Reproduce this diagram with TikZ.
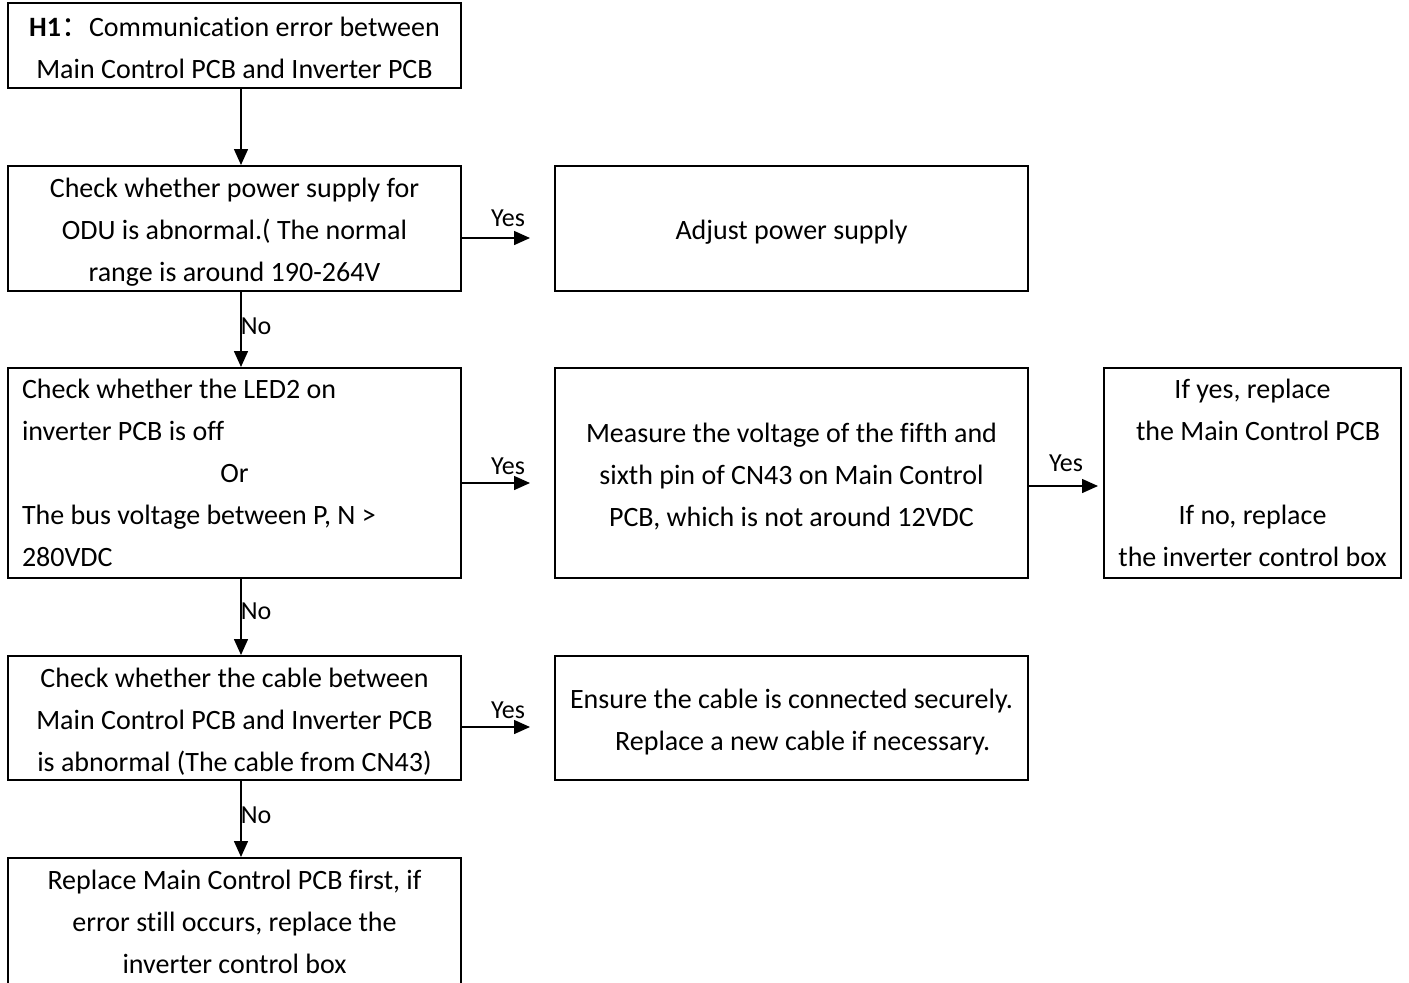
\documentclass[tikz,border=0pt]{standalone}
\usepackage{fontspec}
\setmainfont[Ligatures={NoCommon}]{Carlito}
\newfontfamily\cjkfont{Noto Sans CJK SC}
\usetikzlibrary{arrows.meta}
\newcommand\upfix{\rule{0pt}{27pt}}
\begin{document}
\begin{tikzpicture}[x=1pt,y=-1pt,
  box/.style={draw,line width=2pt,inner sep=0pt,align=center,
    font=\fontsize{28}{42}\selectfont},
  conn/.style={line width=1.5pt,-{Triangle[length=16pt,width=14pt]}},
  lbl/.style={font=\fontsize{26}{30}\selectfont,inner sep=0pt}]
\useasboundingbox (0,0) rectangle (1409,983);
\clip (0,0) rectangle (1409,983);
\node[box,minimum width=453,minimum height=85] (h1) at (234.5,45.5)
  {\rule{0pt}{25pt}\textbf{H1}{\cjkfont ：}Communication error between\\Main Control PCB and Inverter PCB};
\node[box,minimum width=453,minimum height=125] (b2) at (234.5,228.5)
  {\upfix Check whether power supply for\\ODU is abnormal.( The normal\\range is around 190-264V};
\node[box,minimum width=473,minimum height=125] (adj) at (791.5,228.5)
  {\upfix Adjust power supply};
\node[box,minimum width=453,minimum height=210,text width=425,align=flush left] (b3) at (234.5,473)
  {Check whether the LED2 on\\inverter PCB is off\\\makebox[\linewidth]{Or}\\The bus voltage between P, N >\\280VDC};
\node[box,minimum width=473,minimum height=210] (meas) at (791.5,473)
  {\upfix Measure the voltage of the fifth and\\sixth pin of CN43 on Main Control\\PCB, which is not around 12VDC};
\node[box,minimum width=297,minimum height=210] (ify) at (1252.5,473)
  {If yes, replace\\\hspace*{0.4em}the Main Control PCB\\[42pt]If no, replace\\the inverter control box};
\node[box,minimum width=453,minimum height=124] (b4) at (234.5,718)
  {\upfix Check whether the cable between\\Main Control PCB and Inverter PCB\\is abnormal (The cable from CN43)};
\node[box,minimum width=473,minimum height=124] (ens) at (791.5,718)
  {\upfix Ensure the cable is connected securely.\\\hspace*{0.8em}Replace a new cable if necessary.};
\node[box,minimum width=453,minimum height=127] (b5) at (234.5,921.5)
  {Replace Main Control PCB first, if\\error still occurs, replace the\\inverter control box};
% vertical connectors
\draw[conn] ([xshift=6.5pt]h1.south) -- ([xshift=6.5pt]b2.north);
\draw[conn] ([xshift=6.5pt]b2.south) -- ([xshift=6.5pt]b3.north)
  node[lbl,pos=0.45,anchor=west,xshift=-1pt] {No};
\draw[conn] ([xshift=6.5pt]b3.south) -- ([xshift=6.5pt]b4.north)
  node[lbl,pos=0.42,anchor=west,xshift=-1pt] {No};
\draw[conn] ([xshift=6.5pt]b4.south) -- ([xshift=6.5pt]b5.north)
  node[lbl,pos=0.45,anchor=west,xshift=-1pt] {No};
% horizontal connectors
\draw[conn,shorten >=24pt] ([yshift=-9.5pt]b2.east) -- ([yshift=-9.5pt]adj.west)
  node[lbl,pos=0.5,anchor=south,yshift=11pt] {Yes};
\draw[conn,shorten >=24pt] ([yshift=-10pt]b3.east) -- ([yshift=-10pt]meas.west)
  node[lbl,pos=0.5,anchor=south,yshift=8pt] {Yes};
\draw[conn,shorten >=5pt] ([yshift=-13pt]meas.east) -- ([yshift=-13pt]ify.west)
  node[lbl,pos=0.5,anchor=south,yshift=14pt] {Yes};
\draw[conn,shorten >=24pt] ([yshift=-9pt]b4.east) -- ([yshift=-9pt]ens.west)
  node[lbl,pos=0.5,anchor=south,yshift=8pt] {Yes};
\end{tikzpicture}
\end{document}
